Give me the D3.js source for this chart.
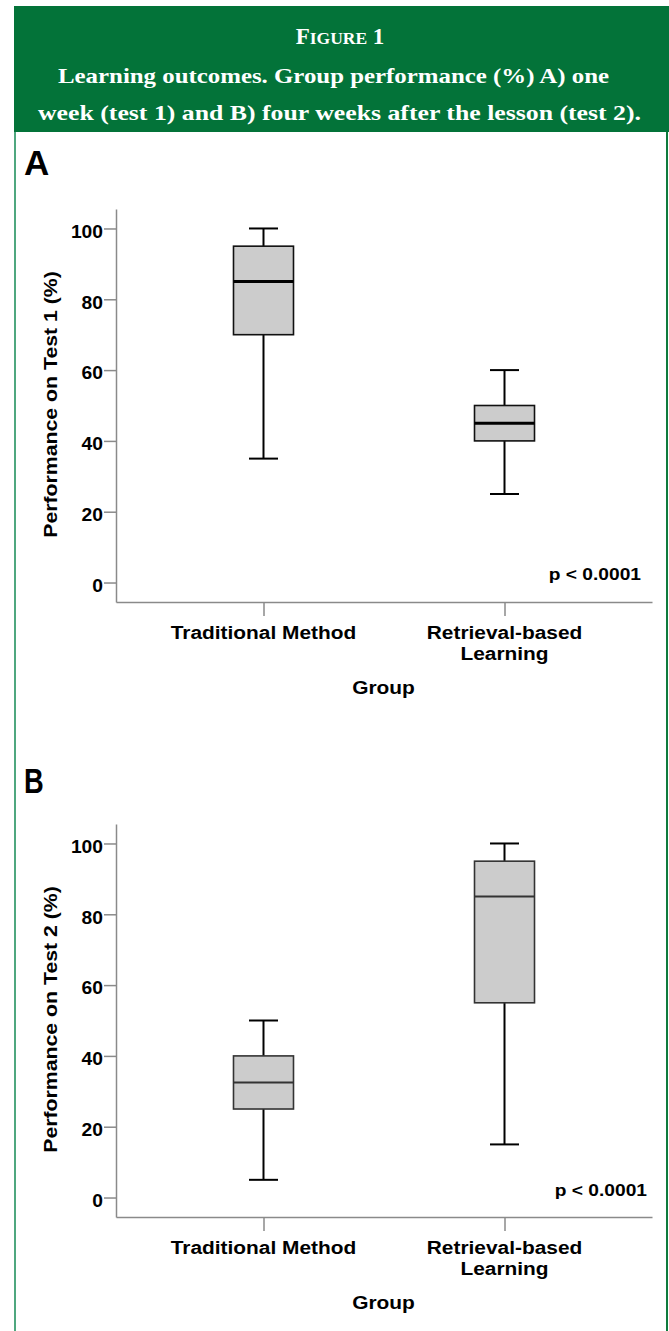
<!DOCTYPE html>
<html><head><meta charset="utf-8">
<script src="https://cdn.jsdelivr.net/npm/d3@7"></script>
<style>body{margin:0;background:#fff}svg{display:block}</style>
</head><body><svg id="c" width="669" height="1331"></svg>
<script>
// ---- data ----
const groups = ["Traditional Method", "Retrieval-based Learning"];
const groupLabelLines = [["Traditional Method"], ["Retrieval-based", "Learning"]];
const test1Min = [35, 25], test1Q1 = [70, 40], test1Median = [85, 45], test1Q3 = [95, 50], test1Max = [100, 60];
const test2Min = [5, 15], test2Q1 = [25, 55], test2Median = [32.5, 85], test2Q3 = [40, 95], test2Max = [50, 100];
const yTicks = [0, 20, 40, 60, 80, 100];
const yDomain = [-5.5, 105.5];
const titleLine1 = "Learning outcomes. Group performance (%) A) one";
const titleLine2 = "week (test 1) and B) four weeks after the lesson (test 2).";
const pText = "p < 0.0001";

// ---- layout ----
const svg = d3.select("#c");
const SANS = "'Liberation Sans', Arial, sans-serif";
const SERIF = "'Liberation Serif', 'Times New Roman', serif";

// header
svg.append("rect").attr("x", 14).attr("y", 6).attr("width", 655).attr("height", 126).attr("fill", "#037339");
const h1 = svg.append("text").attr("x", 340).attr("y", 44).attr("text-anchor", "middle")
  .attr("fill", "#fff").attr("font-family", SERIF).attr("font-weight", "bold");
h1.append("tspan").attr("font-size", 23).text("F");
h1.append("tspan").attr("font-size", 17.5).text("IGURE");
h1.append("tspan").attr("font-size", 23).text(" 1");
svg.append("text").attr("x", 333.5).attr("y", 83).attr("text-anchor", "middle")
  .attr("fill", "#fff").attr("font-family", SERIF).attr("font-weight", "bold").attr("font-size", 22)
  .attr("textLength", 551).attr("lengthAdjust", "spacingAndGlyphs").text(titleLine1);
svg.append("text").attr("x", 339.5).attr("y", 120).attr("text-anchor", "middle")
  .attr("fill", "#fff").attr("font-family", SERIF).attr("font-weight", "bold").attr("font-size", 22)
  .attr("textLength", 603).attr("lengthAdjust", "spacingAndGlyphs").text(titleLine2);

// frame borders
svg.append("line").attr("x1", 15).attr("x2", 15).attr("y1", 132).attr("y2", 1331).attr("stroke", "#4fa77f").attr("stroke-width", 2);
svg.append("line").attr("x1", 667).attr("x2", 667).attr("y1", 132).attr("y2", 1331).attr("stroke", "#0e7a3c").attr("stroke-width", 2);

const panels = [
  {letter: "A", letterY: 175, letterSX: 1, yLabel: "Performance on Test 1 (%)", off: 0,
   min: test1Min, q1: test1Q1, med: test1Median, q3: test1Q3, max: test1Max,
   boxStroke: "#111", medStroke: "#000", medW: 3, pX: 641, pY: 580},
  {letter: "B", letterY: 793, letterSX: 0.78, yLabel: "Performance on Test 2 (%)", off: 615,
   min: test2Min, q1: test2Q1, med: test2Median, q3: test2Q3, max: test2Max,
   boxStroke: "#333", medStroke: "#333", medW: 2, pX: 647, pY: 1196}
];

const AX = "#8a8a8a";
function stretchText(g, x, y, sx, txt, size, anchor, rotate) {
  return g.append("text")
    .attr("transform", `translate(${x},${y})` + (rotate ? ` rotate(${rotate})` : "") + ` scale(${sx},1)`)
    .attr("text-anchor", anchor).attr("font-family", SANS).attr("font-weight", "bold")
    .attr("font-size", size).attr("fill", "#000").text(txt);
}

panels.forEach(p => {
  const g = svg.append("g");
  const top = 209 + p.off, bottom = 602 + p.off, left = 116, right = 652;
  const y = d3.scaleLinear().domain(yDomain).range([bottom, top]);
  const x = d3.scalePoint().domain(groups).range([left, right]).padding(0.612);

  // panel letter
  stretchText(g, 24, p.letterY, p.letterSX, p.letter, 35, "start");

  // y axis
  const ya = g.append("g").attr("transform", `translate(${left},0)`)
    .call(d3.axisLeft(y).tickValues(yTicks).tickSize(12).tickSizeOuter(0).tickFormat(d3.format("d")));
  ya.selectAll("path,line").attr("stroke", AX).attr("stroke-width", 1.5);
  ya.selectAll("text").attr("x", -13 / 1.1).attr("dy", "0.5em").attr("transform", "scale(1.1,1)")
    .attr("font-family", SANS).attr("font-weight", "bold").attr("font-size", 17.5).attr("fill", "#000");

  // x axis
  const xa = g.append("g").attr("transform", `translate(0,${bottom})`)
    .call(d3.axisBottom(x).tickSize(14).tickSizeOuter(0).tickFormat(""));
  xa.selectAll("path,line").attr("stroke", AX).attr("stroke-width", 1.5);

  // category labels
  groups.forEach((grp, i) => {
    groupLabelLines[i].forEach((ln, j) => {
      stretchText(g, x(grp), 639 + p.off + j * 20.5, 1.13, ln, 18.5, "middle");
    });
  });
  stretchText(g, 383.5, 694 + p.off, 1.13, "Group", 18.5, "middle");
  stretchText(g, 56.5, 404.5 + p.off, 1.15, p.yLabel, 18.5, "middle", -90);
  stretchText(g, p.pX, p.pY, 1.13, pText, 17, "end");

  // boxes
  const bw = 60, cw = 29;
  groups.forEach((grp, i) => {
    const cx = x(grp);
    const bg = g.append("g");
    bg.append("line").attr("x1", cx).attr("x2", cx).attr("y1", y(p.max[i])).attr("y2", y(p.q3[i]))
      .attr("stroke", "#000").attr("stroke-width", 2);
    bg.append("line").attr("x1", cx).attr("x2", cx).attr("y1", y(p.q1[i])).attr("y2", y(p.min[i]))
      .attr("stroke", "#000").attr("stroke-width", 2);
    [p.max[i], p.min[i]].forEach(v => {
      bg.append("line").attr("x1", cx - cw / 2).attr("x2", cx + cw / 2).attr("y1", y(v)).attr("y2", y(v))
        .attr("stroke", "#000").attr("stroke-width", 2);
    });
    bg.append("rect").attr("x", cx - bw / 2).attr("width", bw)
      .attr("y", y(p.q3[i])).attr("height", y(p.q1[i]) - y(p.q3[i]))
      .attr("fill", "#cccccc").attr("stroke", p.boxStroke).attr("stroke-width", 1.6);
    bg.append("line").attr("x1", cx - bw / 2).attr("x2", cx + bw / 2)
      .attr("y1", y(p.med[i])).attr("y2", y(p.med[i]))
      .attr("stroke", p.medStroke).attr("stroke-width", p.medW);
  });
});
</script>
</body></html>
